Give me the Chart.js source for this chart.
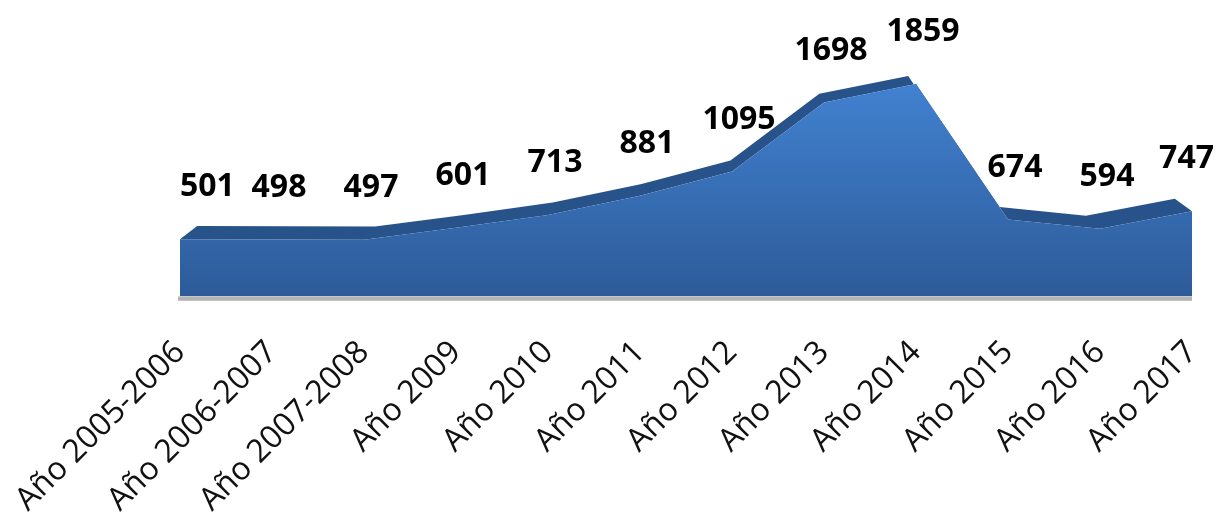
<!DOCTYPE html>
<html>
<head>
<meta charset="utf-8">
<script src="https://cdn.jsdelivr.net/npm/chart.js@4"></script>
<style>
  html, body { margin: 0; padding: 0; background: #fff; }
  #wrap { width: 1223px; height: 525px; position: relative; }
</style>
</head>
<body>
<div id="wrap"><canvas id="area"></canvas></div>
<script>
var categories = ["Año 2005-2006", "Año 2006-2007", "Año 2007-2008", "Año 2009", "Año 2010", "Año 2011",
    "Año 2012", "Año 2013", "Año 2014", "Año 2015", "Año 2016", "Año 2017"];
var values = [501, 498, 497, 601, 713, 881, 1095, 1698, 1859, 674, 594, 747];

var topColor = "#4384d4";
var bottomColor = "#2d5b99";
var bandColor = "#28528a";

// back edge of the 3d area, drawn behind the front face
var backEdge = {
    id: "backEdge",
    beforeDatasetsDraw: function (chart) {
        var ctx = chart.ctx;
        var xs = chart.scales.x, ys = chart.scales.y;
        var ca = chart.chartArea;
        var cx = (ca.left + ca.right) / 2;
        var vy = ca.top - 220;
        var k = 0.966;
        var front = values.map(function (v, i) {
            return [xs.getPixelForValue(i), ys.getPixelForValue(v)];
        });
        var back = front.map(function (p) {
            return [cx + (p[0] - cx) * k, vy + (p[1] - vy) * k];
        });
        ctx.save();
        ctx.fillStyle = bandColor;
        ctx.beginPath();
        ctx.moveTo(front[0][0], front[0][1]);
        back.forEach(function (p) { ctx.lineTo(p[0], p[1]); });
        ctx.lineTo(front[front.length - 1][0], front[front.length - 1][1]);
        for (var i = front.length - 1; i >= 0; i--) ctx.lineTo(front[i][0], front[i][1]);
        ctx.closePath();
        ctx.fill();
        // floor
        var base = ys.getPixelForValue(0);
        ctx.fillStyle = "#b4b4b4";
        ctx.fillRect(ca.left - 2, base, ca.right - ca.left + 2, 3);
        ctx.fillStyle = "#8c8c8c";
        ctx.fillRect(ca.left - 2, base + 3, ca.right - ca.left + 2, 1);
        ctx.restore();
    }
};

var valueLabels = {
    id: "valueLabels",
    afterDatasetsDraw: function (chart) {
        var ctx = chart.ctx;
        var xs = chart.scales.x, ys = chart.scales.y;
        ctx.save();
        ctx.fillStyle = "#000";
        ctx.font = "bold 32px 'Open Sans'";
        ctx.textBaseline = "bottom";
        values.forEach(function (v, i) {
            var x = xs.getPixelForValue(i);
            var y = ys.getPixelForValue(v);
            var last = i === values.length - 1;
            ctx.textAlign = i === 0 ? "left" : (last ? "right" : "center");
            var dx = i === 0 ? 0 : (last ? 22 : 7);
            ctx.fillText(String(v), x + dx, y - 36);
        });
        ctx.restore();
    }
};

var c = document.getElementById("area");
var cCtx = c.getContext("2d");
// @ts-ignore
var chart = new Chart(cCtx, {
    type: "line",
    data: {
        labels: categories,
        datasets: [
            {
                data: values,
                fill: "origin",
                tension: 0,
                borderWidth: 0,
                pointRadius: 0,
                backgroundColor: function (context) {
                    var ca = context.chart.chartArea;
                    if (!ca) return topColor;
                    var g = context.chart.ctx.createLinearGradient(0, ca.top, 0, ca.bottom);
                    g.addColorStop(0, topColor);
                    g.addColorStop(1, bottomColor);
                    return g;
                },
            },
        ],
    },
    options: {
        responsive: true,
        maintainAspectRatio: false,
        animation: false,
        layout: {
            padding: { top: 68, right: 0, left: 0, bottom: 0 },
        },
        plugins: {
            legend: { display: false },
            tooltip: { enabled: false },
        },
        scales: {
            y: {
                display: false,
                min: 0,
                max: 2000,
            },
            x: {
                offset: false,
                grid: { display: false, drawTicks: false },
                border: { display: false },
                afterFit: function (scale) {
                    scale.paddingLeft = 180;
                    scale.paddingRight = 31;
                },
                ticks: {
                    minRotation: 45,
                    maxRotation: 45,
                    padding: 37,
                    color: "#111",
                    autoSkip: false,
                    font: { family: "'Open Sans'", size: 32 },
                },
            },
        },
    },
    plugins: [backEdge, valueLabels],
});
</script>
</body>
</html>
